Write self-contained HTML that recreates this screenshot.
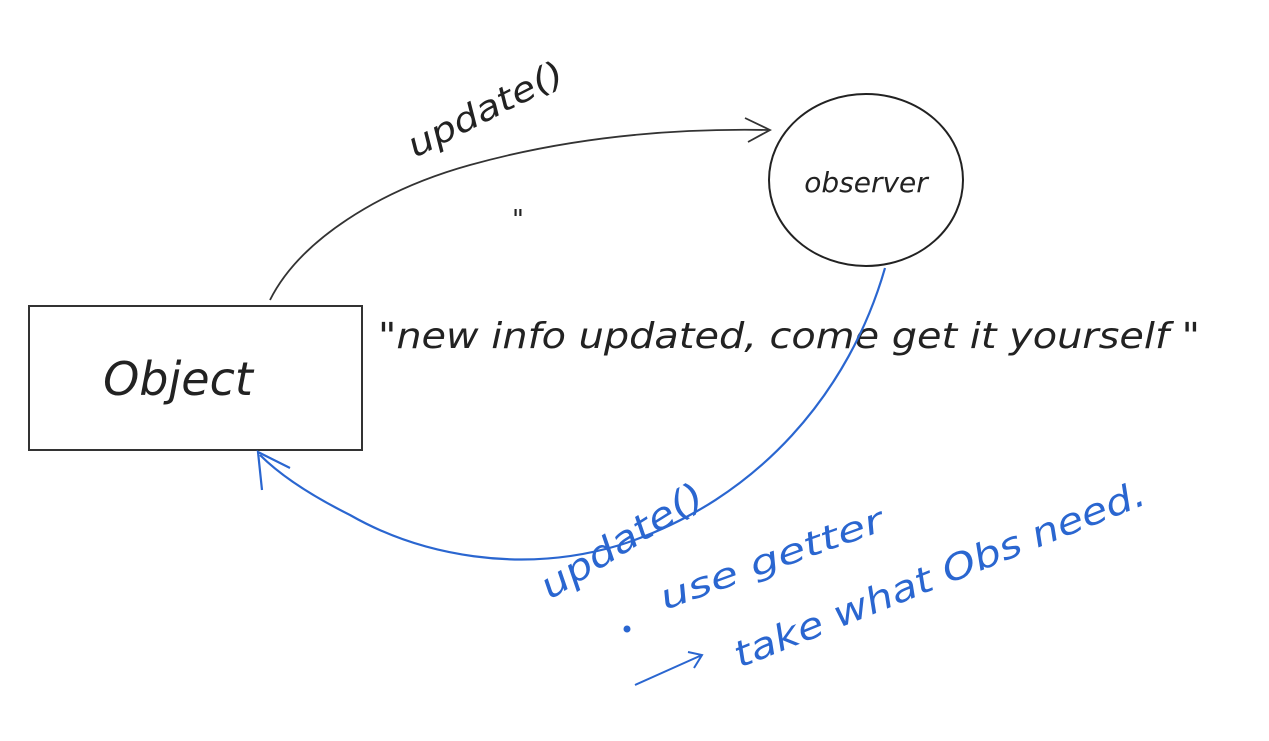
<!DOCTYPE html>
<html><head><meta charset="utf-8"><style>
html,body{margin:0;padding:0;background:#fff;}
svg{display:block;}
text{font-family:"DejaVu Sans","Liberation Sans",sans-serif;}
</style></head><body>
<svg width="1269" height="741" viewBox="0 0 1269 741" xmlns="http://www.w3.org/2000/svg">
<rect x="0" y="0" width="1269" height="741" fill="#fff"/>
<rect x="29" y="306" width="333" height="144" fill="none" stroke="#333" stroke-width="2"/>
<text x="178" y="395" font-size="46" fill="#222" text-anchor="middle" font-style="italic">Object</text>
<ellipse cx="866" cy="180" rx="97" ry="86" fill="none" stroke="#222" stroke-width="2"/>
<text x="866" y="192" font-size="28" fill="#222" text-anchor="middle" font-style="italic">observer</text>
<path d="M270,300 C300,240 380,190 470,165 C560,140 660,128 768,130" fill="none" stroke="#333" stroke-width="1.8"/>
<path d="M745,118 L770,130 L748,142" fill="none" stroke="#333" stroke-width="1.8"/>
<text x="0" y="0" font-size="34" fill="#222" font-style="italic" textLength="170" lengthAdjust="spacingAndGlyphs" transform="translate(415,158) rotate(-27)">update()</text>
<text x="512" y="228" font-size="26" fill="#222">"</text>
<text x="378" y="348" font-size="36" fill="#222" font-style="italic" textLength="822" lengthAdjust="spacingAndGlyphs">"new info updated,  come get it yourself "</text>
<path d="M885,268 C850,390 760,500 620,545 C520,575 420,555 350,515 C310,495 280,475 260,455" fill="none" stroke="#2a66d0" stroke-width="2.2"/>
<path d="M262,490 L258,452 L290,468" fill="none" stroke="#2a66d0" stroke-width="2.2"/>
<g fill="#2a66d0" font-style="italic">
<text font-size="36" textLength="185" lengthAdjust="spacingAndGlyphs" transform="translate(550,600) rotate(-32)">update()</text>
<text font-size="34" textLength="235" lengthAdjust="spacingAndGlyphs" transform="translate(665,610) rotate(-20)">use getter</text>
<text font-size="36" textLength="440" lengthAdjust="spacingAndGlyphs" transform="translate(740,668) rotate(-22)">take what Obs need.</text>
<circle cx="627" cy="629" r="3.5"/>
</g>
<path d="M635,685 L702,655 M688,652 L702,655 L694,668" fill="none" stroke="#2a66d0" stroke-width="2"/>
</svg>
</body></html>
